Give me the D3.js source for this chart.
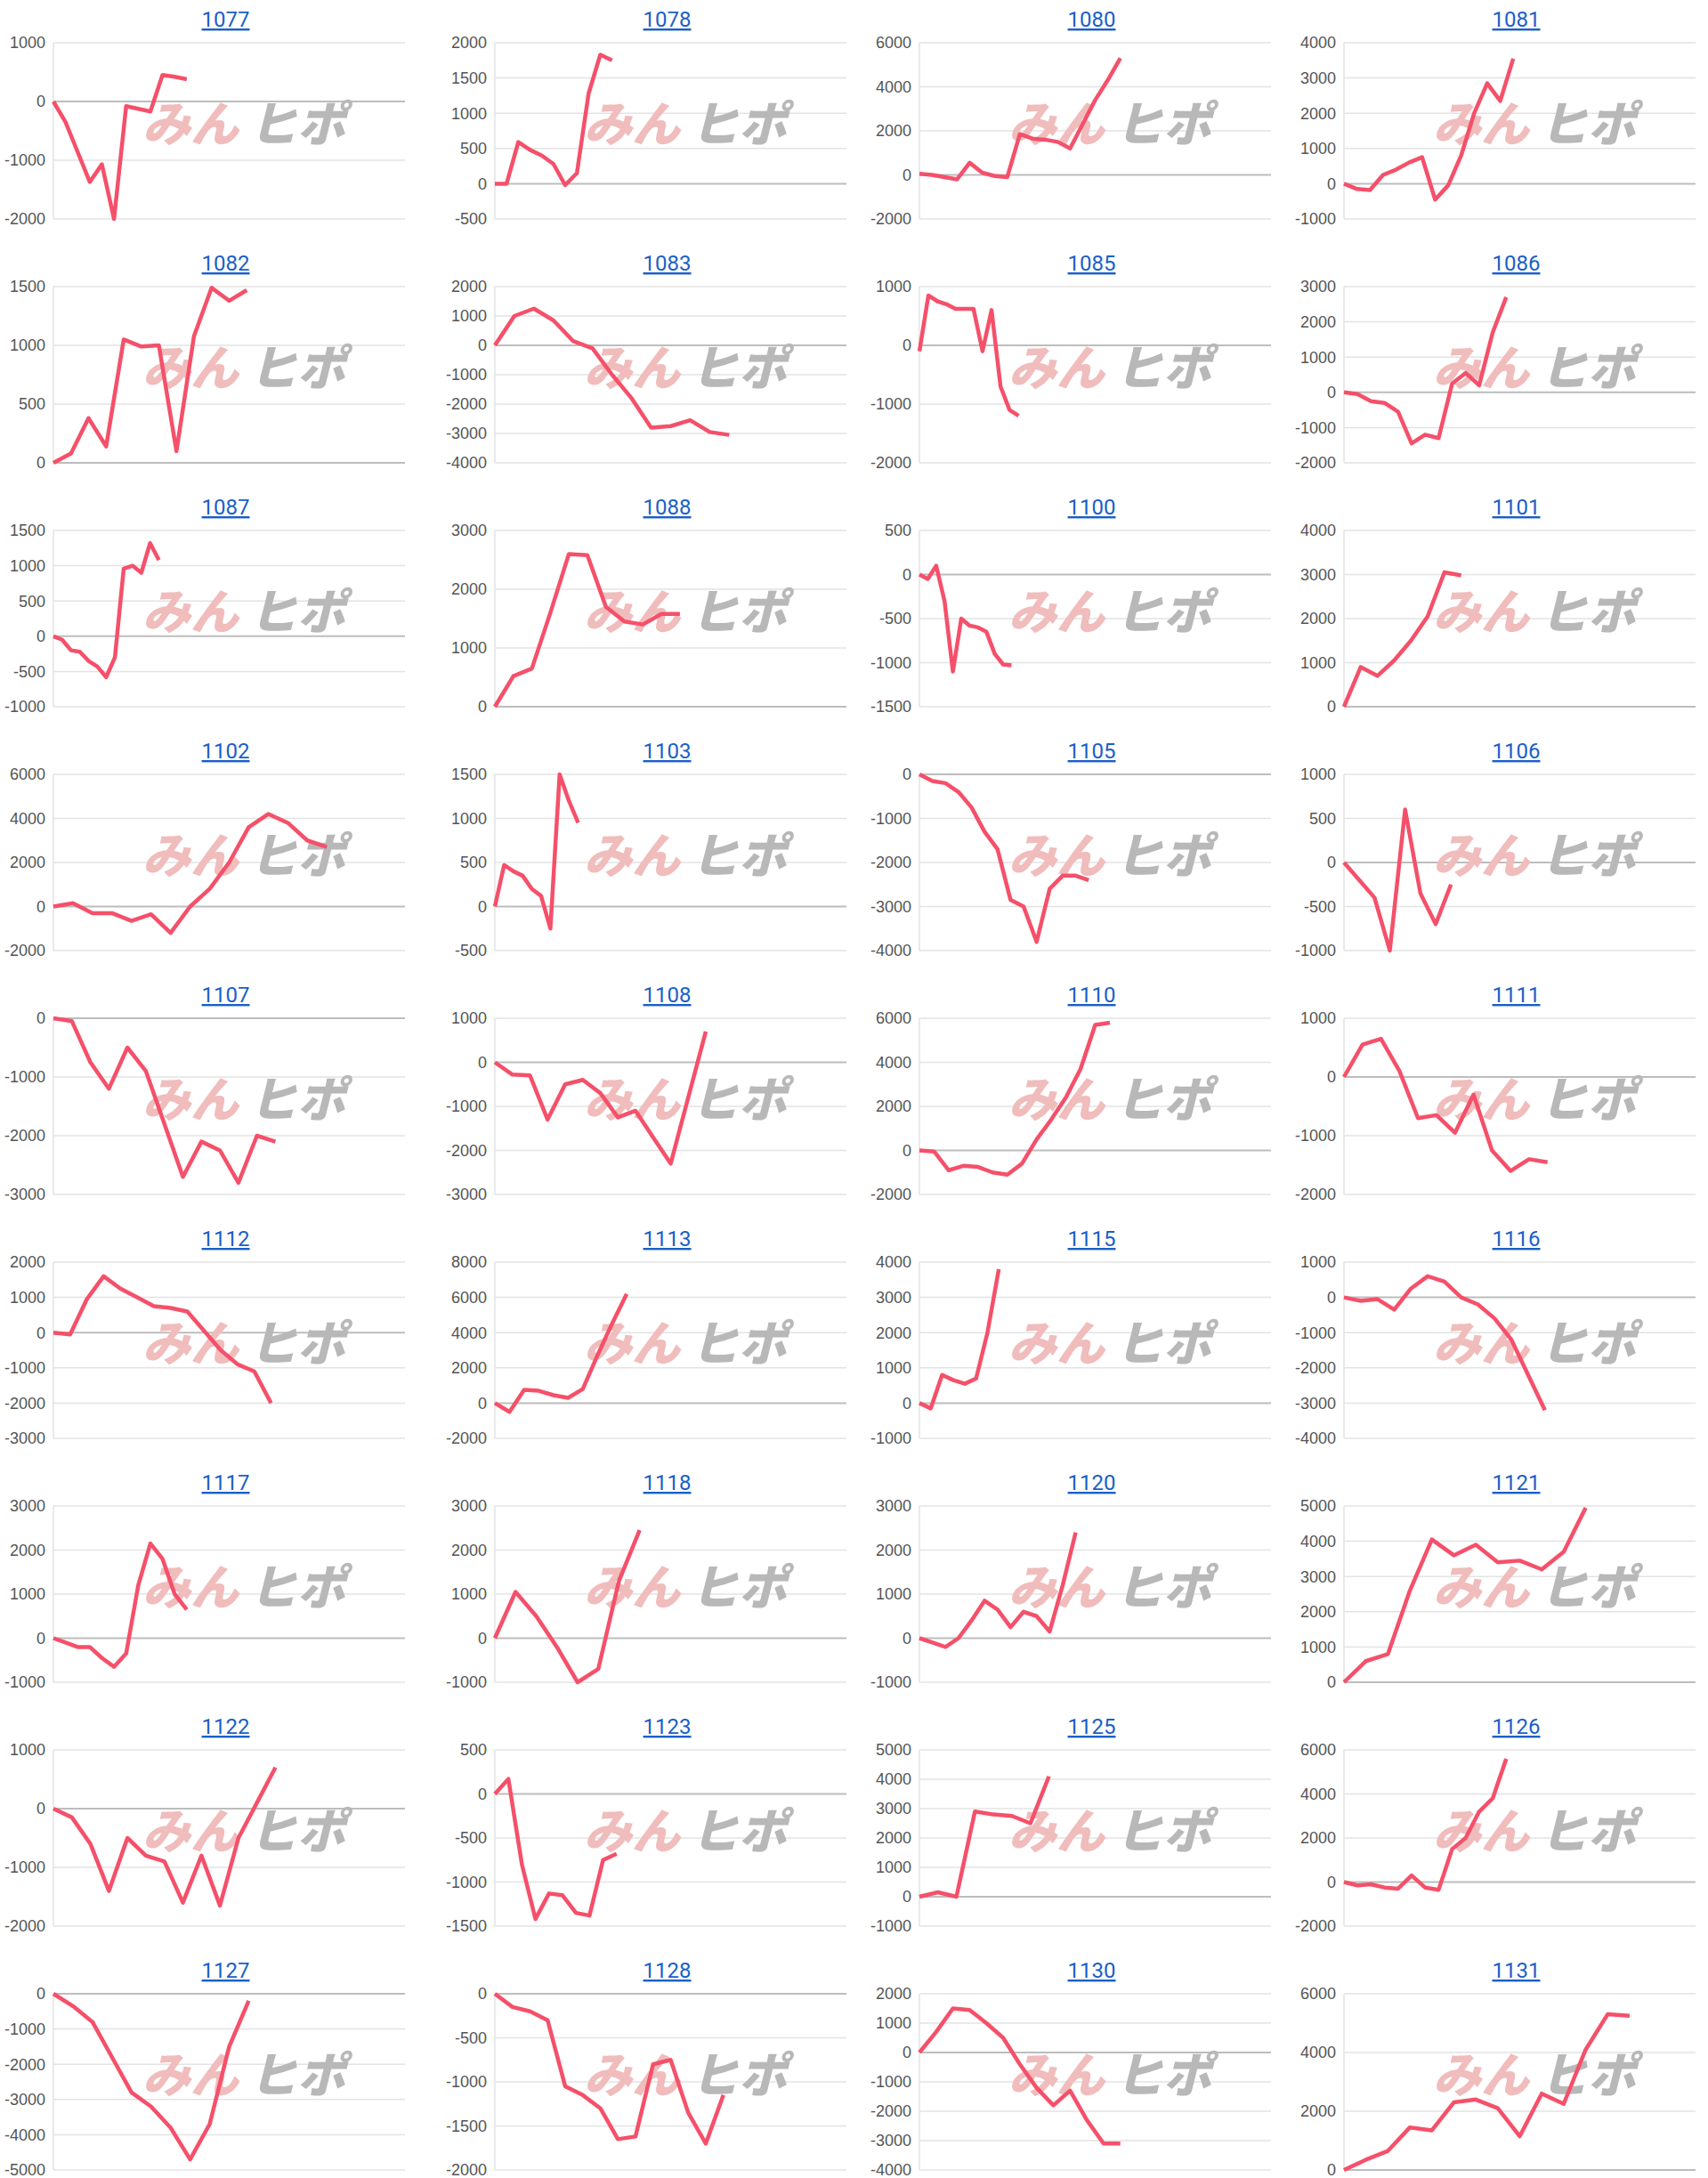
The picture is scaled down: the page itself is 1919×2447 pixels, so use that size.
<!DOCTYPE html>
<html>
<head>
<meta charset="utf-8">
<script src="https://cdn.jsdelivr.net/npm/d3@7"></script>
<style>
  body { margin: 0; background: #fff; }
  svg { display: block; }
</style>
</head>
<body>
<div id="main"></div>
<script>
// machine numbers, one small chart each
var machines = ["1077","1078","1080","1081","1082","1083","1085","1086","1087","1088","1100","1101",
  "1102","1103","1105","1106","1107","1108","1110","1111","1112","1113","1115","1116",
  "1117","1118","1120","1121","1122","1123","1125","1126","1127","1128","1130","1131"];

// daily cumulative difference for each machine
var series = [
  [0,-350,-860,-1370,-1070,-2000,-80,-125,-170,450,420,380],
  [0,0,590,480,400,280,-20,150,1280,1830,1750],
  [50,0,-100,-200,550,100,-50,-100,1850,1650,1600,1500,1200,2300,3400,4300,5300],
  [0,-150,-180,250,400,600,750,-450,-50,800,2000,2850,2350,3550],
  [0,80,380,140,1050,990,1000,100,1080,1490,1380,1470],
  [0,1000,1250,850,150,-100,-1000,-1800,-2800,-2750,-2550,-2950,-3050],
  [-100,850,750,700,620,620,620,-100,600,-700,-1100,-1200],
  [0,-50,-250,-300,-550,-1450,-1200,-1300,250,550,200,1700,2700],
  [0,-50,-200,-220,-350,-430,-580,-300,960,1000,900,1320,1080],
  [0,520,650,1600,2600,2580,1700,1450,1400,1580,1580],
  [0,-50,100,-300,-1100,-500,-580,-600,-650,-900,-1020,-1030],
  [0,900,700,1050,1500,2050,3050,2980],
  [0,150,-300,-300,-650,-350,-1200,0,800,2000,3600,4200,3800,3000,2700],
  [0,470,400,350,200,120,-250,1500,1200,950],
  [0,-150,-200,-400,-750,-1300,-1700,-2850,-3000,-3800,-2600,-2300,-2300,-2400],
  [0,-200,-400,-1000,600,-350,-700,-250],
  [0,-50,-750,-1200,-500,-900,-1800,-2700,-2100,-2250,-2800,-2000,-2100],
  [0,-280,-300,-1300,-500,-400,-700,-1250,-1100,-1700,-2300,-800,700],
  [0,-50,-900,-700,-750,-1000,-1100,-600,500,1400,2400,3700,5700,5800],
  [0,550,650,100,-700,-650,-950,-300,-1250,-1600,-1400,-1450],
  [0,-50,950,1600,1250,1000,750,700,600,50,-500,-900,-1100,-2000],
  [0,-500,750,700,450,300,800,2700,4500,6200],
  [0,-150,800,650,550,700,2000,3800],
  [0,-100,-50,-350,250,600,450,0,-200,-600,-1200,-2200,-3200],
  [0,-100,-200,-200,-450,-650,-350,1200,2150,1800,1000,650],
  [0,1050,500,-200,-1000,-700,1300,2450],
  [0,-100,-200,0,400,850,650,250,600,500,150,1200,2400],
  [0,600,800,2600,4050,3600,3900,3400,3450,3200,3700,4950],
  [0,-150,-600,-1400,-500,-800,-900,-1600,-800,-1650,-500,100,700],
  [0,170,-800,-1420,-1130,-1150,-1350,-1380,-750,-680],
  [0,150,0,2900,2800,2750,2500,4100],
  [0,-150,-100,-250,-300,300,-250,-350,1500,2000,3200,3800,5600],
  [0,-350,-800,-1800,-2800,-3200,-3800,-4700,-3700,-1500,-200],
  [0,-150,-200,-300,-1050,-1150,-1300,-1650,-1620,-800,-750,-1350,-1700,-1150],
  [0,700,1500,1450,1000,500,-400,-1200,-1800,-1300,-2300,-3100,-3100],
  [0,350,650,1450,1350,2300,2400,2100,1150,2600,2250,4100,5300,5250]
];

// number of day slots on each x axis
var daySlots = [29,30,28,27,20,18,39,26,40,19,42,21,18,38,27,23,19,20,24,19,21,24,31,21,29,17,27,16,19,26,19,26,18,20,21,16];

// y axis tick range per chart: [min, max, step]
var yTicks = [
  [-2000,1000,1000],[-500,2000,500],[-2000,6000,2000],[-1000,4000,1000],
  [0,1500,500],[-4000,2000,1000],[-2000,1000,1000],[-2000,3000,1000],
  [-1000,1500,500],[0,3000,1000],[-1500,500,500],[0,4000,1000],
  [-2000,6000,2000],[-500,1500,500],[-4000,0,1000],[-1000,1000,500],
  [-3000,0,1000],[-3000,1000,1000],[-2000,6000,2000],[-2000,1000,1000],
  [-3000,2000,1000],[-2000,8000,2000],[-1000,4000,1000],[-4000,1000,1000],
  [-1000,3000,1000],[-1000,3000,1000],[-1000,3000,1000],[0,5000,1000],
  [-2000,1000,1000],[-1500,500,500],[-1000,5000,1000],[-2000,6000,2000],
  [-5000,0,1000],[-2000,0,500],[-4000,2000,1000],[0,6000,2000]
];

var width = 1919, height = 2447;
var colX = [60, 556, 1033, 1510]; // y axis position of each column
var plotW = 395, plotH = 198, rowPitch = 274, plotTop = 48;

var svg = d3.select("#main").append("svg")
    .attr("width", width)
    .attr("height", height);

var line = d3.line();

machines.forEach(function (name, i) {
    var col = i % 4, row = Math.floor(i / 4);
    var g = svg.append("g")
        .attr("transform", "translate(" + colX[col] + "," + (row * rowPitch + plotTop) + ")");

    var t = yTicks[i];
    var x = d3.scaleLinear().domain([0, daySlots[i]]).range([0, plotW]);
    var y = d3.scaleLinear().domain([t[0], t[1]]).range([plotH, 0]);
    var ticks = d3.range(t[0], t[1] + t[2] / 2, t[2]);

    // title link
    g.append("text")
        .attr("x", plotW * 0.49)
        .attr("y", -18)
        .attr("text-anchor", "middle")
        .attr("font-family", "Roboto, 'Noto Sans', sans-serif")
        .attr("font-size", 24)
        .attr("fill", "#1a5fc8")
        .attr("text-decoration", "underline")
        .text(name);

    // grid
    g.selectAll(".grid").data(ticks).enter().append("line")
        .attr("x1", 0).attr("x2", plotW)
        .attr("y1", function (d) { return y(d); })
        .attr("y2", function (d) { return y(d); })
        .attr("stroke", function (d) { return d === 0 ? "#bdbdbd" : "#e3e3e3"; })
        .attr("stroke-width", function (d) { return d === 0 ? 2 : 1.5; });

    g.append("line")
        .attr("x1", 0).attr("x2", 0).attr("y1", 0).attr("y2", plotH)
        .attr("stroke", "#e3e3e3").attr("stroke-width", 1.5);

    g.selectAll(".tick").data(ticks).enter().append("text")
        .attr("x", -9)
        .attr("y", function (d) { return y(d); })
        .attr("dy", "0.35em")
        .attr("text-anchor", "end")
        .attr("font-family", "'Liberation Sans', Arial, sans-serif")
        .attr("font-size", 18)
        .attr("fill", "#555")
        .text(function (d) { return d; });

    // watermark
    var wm = g.append("g")
        .attr("transform", "translate(100," + (plotH * 0.56) + ") skewX(-14)")
        .attr("font-family", "'Noto Sans CJK JP', sans-serif")
        .attr("font-weight", 900)
        .attr("font-size", 54);
    wm.append("text").attr("x", 0).attr("y", 0).attr("fill", "#f0bcbc").text("みん");
    wm.append("text").attr("x", 120).attr("y", 0).attr("fill", "#b8b8b8").text("ヒポ");

    // data line
    g.append("path")
        .attr("d", line(series[i].map(function (v, k) { return [x(k), y(v)]; })))
        .attr("fill", "none")
        .attr("stroke", "#f5506a")
        .attr("stroke-width", 4.5)
        .attr("stroke-linejoin", "round");
});
</script>
</body>
</html>
